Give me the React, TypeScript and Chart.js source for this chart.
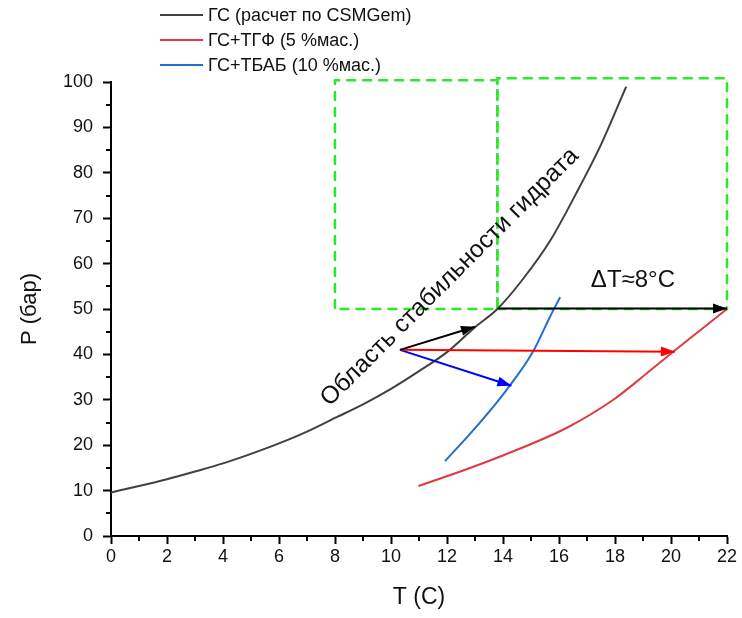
import React, { useEffect, useRef } from "react";
import { Chart, registerables } from "chart.js";

Chart.register(...registerables);

// ГС (расчет по CSMGem)
const blackT = [0, 1, 2, 3, 4, 5, 6, 7, 8, 9, 10, 11, 12, 13, 13.8, 14.7, 15.7, 16.6, 17.5, 18.4];
const blackP = [9.6, 11, 12.5, 14.2, 16, 18.1, 20.4, 23, 26, 29, 32.4, 36.3, 40.5, 46, 50, 56.5, 65.2, 75.3, 86.2, 99];
// ГС+ТГФ (5 %мас.)
const redT = [10.98, 12.7, 13.9, 16.3, 17.94, 19.13, 20.08, 22];
const redP = [11, 14.7, 17.5, 23.9, 30, 35.8, 40.6, 50];
// ГС+ТБАБ (10 %мас.)
const blueT = [11.93, 12.94, 14.13, 15.08, 15.68, 16.04];
const blueP = [16.5, 23.3, 32.2, 40.7, 48.3, 52.6];

// arrows
const arrowStartT = [10.32, 10.32, 10.32, 13.83];
const arrowStartP = [41, 41, 41, 50.1];
const arrowEndT = [13.0, 20.14, 14.3, 22];
const arrowEndP = [46.1, 40.6, 33.1, 50.1];

// dashed green zones
const boxT0 = [8, 13.8];
const boxT1 = [13.8, 22];
const boxP0 = [50, 50];
const boxP1 = [100.4, 100.8];

const seriesLabels = ["ГС (расчет по CSMGem)", "ГС+ТГФ (5 %мас.)", "ГС+ТБАБ (10 %мас.)"];
const xTitle = "T (C)";
const yTitle = "P (бар)";
const deltaLabel = "ΔT≈8°C";
const deltaPos = { t: 18.64, p: 56.2 };
const zoneLabel = "Область стабильности гидрата";
const zonePos = { t: 12.1, p: 57.0 };

const FONT = 'Arial, "Liberation Sans", sans-serif';
const arrowColors = ["#000000", "#ff0000", "#0000ff", "#000000"];

const pts = (xs: number[], ys: number[]) => xs.map((x, i) => ({ x, y: ys[i] }));

const customPlugin = {
  id: "custom",
  afterDraw(chart: any) {
    const ctx = chart.ctx as CanvasRenderingContext2D;
    const xs = chart.scales.x;
    const ys = chart.scales.y;
    const area = chart.chartArea;
    ctx.save();
    // minor ticks
    ctx.strokeStyle = "#000";
    ctx.lineWidth = 2;
    ctx.beginPath();
    for (let t = 1; t < 22; t += 2) {
      const px = Math.round(xs.getPixelForValue(t));
      ctx.moveTo(px, area.bottom);
      ctx.lineTo(px, area.bottom + 5);
    }
    for (let p = 5; p < 100; p += 10) {
      const py = Math.round(ys.getPixelForValue(p));
      ctx.moveTo(area.left, py);
      ctx.lineTo(area.left - 5, py);
    }
    ctx.stroke();

    // arrowheads
    for (let i = 0; i < arrowStartT.length; i++) {
      const x0 = xs.getPixelForValue(arrowStartT[i]);
      const y0 = ys.getPixelForValue(arrowStartP[i]);
      const x1 = xs.getPixelForValue(arrowEndT[i]);
      const y1 = ys.getPixelForValue(arrowEndP[i]);
      const a = Math.atan2(y1 - y0, x1 - x0);
      const L = 14;
      const W = 5;
      ctx.fillStyle = arrowColors[i];
      ctx.beginPath();
      ctx.moveTo(x1, y1);
      ctx.lineTo(x1 - L * Math.cos(a) + W * Math.sin(a), y1 - L * Math.sin(a) - W * Math.cos(a));
      ctx.lineTo(x1 - L * Math.cos(a) - W * Math.sin(a), y1 - L * Math.sin(a) + W * Math.cos(a));
      ctx.closePath();
      ctx.fill();
    }

    // texts
    ctx.fillStyle = "#111";
    ctx.textAlign = "center";
    ctx.textBaseline = "middle";
    ctx.font = `24px ${FONT}`;
    ctx.fillText(deltaLabel, xs.getPixelForValue(deltaPos.t), ys.getPixelForValue(deltaPos.p));
    ctx.save();
    ctx.translate(xs.getPixelForValue(zonePos.t), ys.getPixelForValue(zonePos.p));
    ctx.rotate((-45 * Math.PI) / 180);
    ctx.font = `24.5px ${FONT}`;
    ctx.fillText(zoneLabel, 0, 0);
    ctx.restore();

    // axis titles
    ctx.font = `23px ${FONT}`;
    ctx.fillText(xTitle, (area.left + area.right) / 2, 598);
    ctx.font = `22px ${FONT}`;
    ctx.save();
    ctx.translate(30, (area.top + area.bottom) / 2);
    ctx.rotate(-Math.PI / 2);
    ctx.fillText(yTitle, 0, 0);
    ctx.restore();

    // legend
    const rows = [15, 40, 65];
    ctx.textAlign = "left";
    ctx.font = `18px ${FONT}`;
    for (let i = 0; i < 3; i++) {
      const ds = chart.data.datasets[i];
      ctx.strokeStyle = ds.borderColor;
      ctx.lineWidth = 2;
      ctx.beginPath();
      ctx.moveTo(160, rows[i]);
      ctx.lineTo(203, rows[i]);
      ctx.stroke();
      ctx.fillStyle = "#111";
      ctx.fillText(ds.label, 208, rows[i] + 1);
    }
    ctx.restore();
  },
};

export default function App() {
  const ref = useRef<HTMLCanvasElement | null>(null);
  useEffect(() => {
    if (!ref.current) return;
    const curve = (label: string, data: any[], color: string, order: number) => ({
      label,
      data,
      borderColor: color,
      backgroundColor: color,
      borderWidth: 2,
      pointRadius: 0,
      showLine: true,
      cubicInterpolationMode: "monotone" as const,
      clip: false as const,
      order,
    });
    const datasets: any[] = [
      curve(seriesLabels[0], pts(blackT, blackP), "#404040", 5),
      curve(seriesLabels[1], pts(redT, redP), "#dd3b3f", 5),
      curve(seriesLabels[2], pts(blueT, blueP), "#1f6fd1", 5),
    ];
    for (let i = 0; i < boxT0.length; i++) {
      datasets.push({
        label: "zone" + i,
        data: [
          { x: boxT0[i], y: boxP0[i] },
          { x: boxT0[i], y: boxP1[i] },
          { x: boxT1[i], y: boxP1[i] },
          { x: boxT1[i], y: boxP0[i] },
          { x: boxT0[i], y: boxP0[i] },
        ],
        borderColor: "#2ee62e",
        borderWidth: 2.5,
        borderDash: [10, 6],
        pointRadius: 0,
        showLine: true,
        clip: false,
        order: 8,
      });
    }
    for (let i = 0; i < arrowStartT.length; i++) {
      datasets.push({
        label: "arrow" + i,
        data: [
          { x: arrowStartT[i], y: arrowStartP[i] },
          { x: arrowEndT[i], y: arrowEndP[i] },
        ],
        borderColor: arrowColors[i],
        borderWidth: 2,
        pointRadius: 0,
        showLine: true,
        clip: false,
        order: 1,
      });
    }
    const chart = new Chart(ref.current, {
      type: "scatter",
      data: { datasets },
      options: {
        animation: false,
        responsive: false,
        devicePixelRatio: 1,
        layout: { padding: { top: 82, right: 15, left: 0, bottom: 0 } },
        plugins: { legend: { display: false }, tooltip: { enabled: false } },
        scales: {
          x: {
            type: "linear",
            min: 0,
            max: 22,
            afterFit: (s: any) => {
              s.height = 82;
            },
            ticks: { stepSize: 2, color: "#111", font: { size: 18, family: FONT }, padding: 2, maxRotation: 0 },
            grid: { drawOnChartArea: false, drawTicks: true, tickLength: 8, tickColor: "#000", tickWidth: 2 },
            border: { color: "#000", width: 2 },
          },
          y: {
            type: "linear",
            min: 0,
            max: 100,
            afterFit: (s: any) => {
              s.width = 111;
            },
            ticks: { stepSize: 10, color: "#111", font: { size: 18, family: FONT }, padding: 10 },
            grid: { drawOnChartArea: false, drawTicks: true, tickLength: 8, tickColor: "#000", tickWidth: 2 },
            border: { color: "#000", width: 2 },
          },
        },
      },
      plugins: [customPlugin],
    });
    return () => chart.destroy();
  }, []);
  return (
    <div style={{ position: "absolute", left: 0, top: 0, width: 742, height: 618, background: "#fff" }}>
      <canvas ref={ref} width={742} height={618} style={{ width: 742, height: 618, display: "block" }} />
    </div>
  );
}
